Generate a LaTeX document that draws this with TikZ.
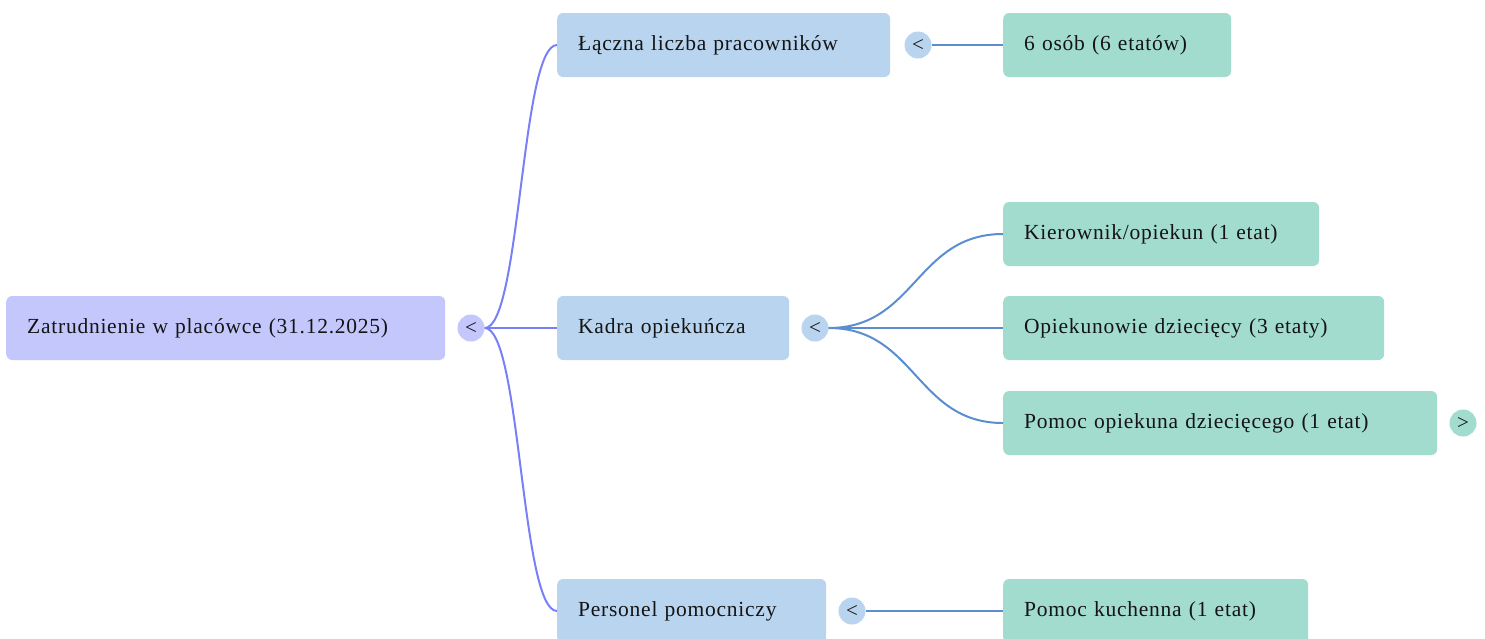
\documentclass[tikz,border=0pt]{standalone}
\usepackage{fontspec}
\setmainfont{Liberation Serif}[LetterSpace=3.5]
\newfontfamily\togfont{Liberation Serif}
\definecolor{rootc}{HTML}{C3C7FC}
\definecolor{lonec}{HTML}{B9D4EF}
\definecolor{ltwoc}{HTML}{A2DCCF}
\definecolor{eone}{HTML}{7880F7}
\definecolor{etwo}{HTML}{5B8ED0}
\definecolor{txt}{HTML}{141414}
\tikzset{
  box/.style={rounded corners=6pt, inner xsep=21pt, inner ysep=0pt, minimum height=64pt,
    align=left, anchor=west, text=txt, font=\fontsize{21.5}{25}\selectfont},
  rootbox/.style={box, fill=rootc},
  lonebox/.style={box, fill=lonec},
  ltwobox/.style={box, fill=ltwoc},
  tog/.style={circle, minimum size=27pt, inner sep=0pt, text=txt, font=\togfont\fontsize{21}{22}\selectfont},
  edgeone/.style={draw=eone, line width=2pt},
  edgetwo/.style={draw=etwo, line width=2pt},
}
\begin{document}
\begin{tikzpicture}[x=1pt, y=-1pt]
\useasboundingbox (0,0) rectangle (1485,638);
% root
\node[rootbox, text width=397pt] (root) at (6,328) {Zatrudnienie w placówce (31.12.2025)};
\node[tog, fill=rootc] (rc) at (471,328) {<};
% level 1
\node[lonebox, text width=291pt] (la) at (557,45) {Łączna liczba pracowników};
\node[lonebox, text width=190pt] (lb) at (557,328) {Kadra opiekuńcza};
\node[lonebox, text width=227pt] (lc) at (557,611) {Personel pomocniczy};
\node[tog, fill=lonec] (ca) at (918,45) {<};
\node[tog, fill=lonec] (cb) at (815,328) {<};
\node[tog, fill=lonec] (cc) at (852,611) {<};
% level 2
\node[ltwobox, text width=186pt] (ma) at (1003,45) {6 osób (6 etatów)};
\node[ltwobox, text width=274pt] (mb) at (1003,234) {Kierownik/opiekun (1 etat)};
\node[ltwobox, text width=339pt] (mc) at (1003,328) {Opiekunowie dziecięcy (3 etaty)};
\node[ltwobox, text width=392pt] (md) at (1003,423) {Pomoc opiekuna dziecięcego (1 etat)};
\node[ltwobox, text width=263pt] (me) at (1003,611) {Pomoc kuchenna (1 etat)};
\node[tog, fill=ltwoc] (cd) at (1463,423) {>};
% edges root -> level 1
\draw[edgeone] (rc.east) .. controls +(36,0) and +(-36,0) .. (la.west);
\draw[edgeone] (rc.east) -- (lb.west);
\draw[edgeone] (rc.east) .. controls +(36,0) and +(-36,0) .. (lc.west);
% edges level 1 -> level 2
\draw[edgetwo] (ca.east) -- (ma.west);
\draw[edgetwo] (cb.east) .. controls +(87,0) and +(-87,0) .. (mb.west);
\draw[edgetwo] (cb.east) -- (mc.west);
\draw[edgetwo] (cb.east) .. controls +(87,0) and +(-87,0) .. (md.west);
\draw[edgetwo] (cc.east) -- (me.west);
\end{tikzpicture}
\end{document}
